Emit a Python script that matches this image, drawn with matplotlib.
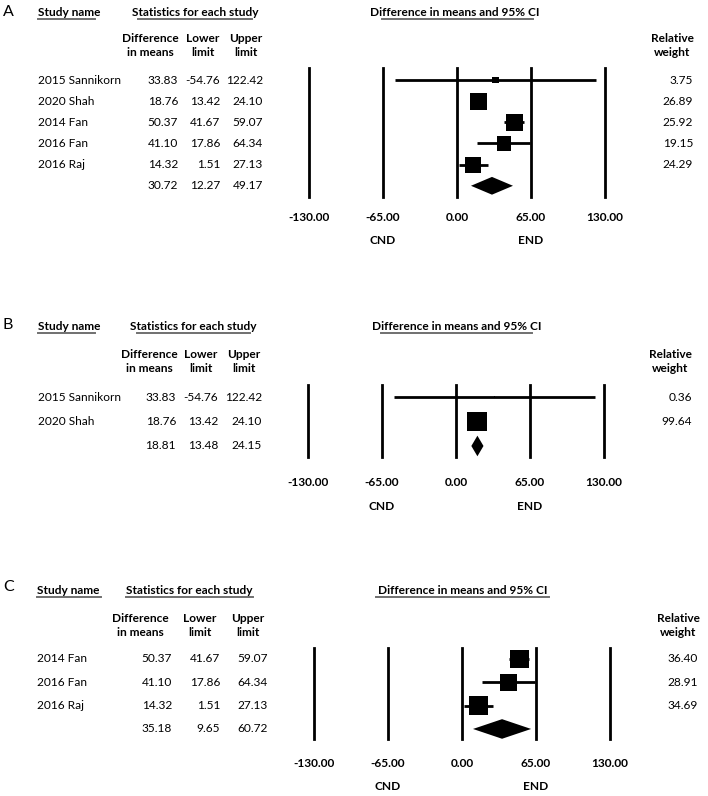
import matplotlib
matplotlib.use('Agg')
import numpy as np
import matplotlib.pyplot as plt
from matplotlib.transforms import blended_transform_factory
from matplotlib.lines import Line2D

W, H = 708, 796
plt.rcParams['font.family'] = ['Lato', 'DejaVu Sans']

# ---------------- data ----------------
a_studies = ['2015 Sannikorn', '2020 Shah', '2014 Fan', '2016 Fan', '2016 Raj']
a_diff = [33.83, 18.76, 50.37, 41.10, 14.32]
a_lower = [-54.76, 13.42, 41.67, 17.86, 1.51]
a_upper = [122.42, 24.10, 59.07, 64.34, 27.13]
a_weight = [3.75, 26.89, 25.92, 19.15, 24.29]
a_summary = [30.72, 12.27, 49.17]

b_studies = ['2015 Sannikorn', '2020 Shah']
b_diff = [33.83, 18.76]
b_lower = [-54.76, 13.42]
b_upper = [122.42, 24.10]
b_weight = [0.36, 99.64]
b_summary = [18.81, 13.48, 24.15]

c_studies = ['2014 Fan', '2016 Fan', '2016 Raj']
c_diff = [50.37, 41.10, 14.32]
c_lower = [41.67, 17.86, 1.51]
c_upper = [59.07, 64.34, 27.13]
c_weight = [36.40, 28.91, 34.69]
c_summary = [35.18, 9.65, 60.72]

tick_values = [-130, -65, 0, 65, 130]
tick_labels = ['-130.00', '-65.00', '0.00', '65.00', '130.00']
left_label, right_label = 'CND', 'END'

# ---------------- layout (pixels) ----------------
panels = [
    dict(letter='A', studies=a_studies, diff=a_diff, lower=a_lower, upper=a_upper,
         weight=a_weight, summary=a_summary,
         letter_y=12, head_y=13, uline_y=19, sub1_y=38, sub2_y=53,
         ax=(309, 605, 68, 197), pad_top=0.57, pad_bot=0.53,
         tick_y=217, cnd_y=241,
         name_x=38, diff_r=178, low_r=220, up_r=263, rw_r=693,
         diff_c=150, low_c=203, up_c=246, rw_c=672,
         study_ul=(38, 95), stats_ul=(138, 252), ci_ul=(382, 533),
         stats_c=195, ci_c=455),
    dict(letter='B', studies=b_studies, diff=b_diff, lower=b_lower, upper=b_upper,
         weight=b_weight, summary=b_summary,
         letter_y=325, head_y=327, uline_y=333, sub1_y=354, sub2_y=369,
         ax=(308, 604, 385, 457), pad_top=0.49, pad_bot=0.45,
         tick_y=482, cnd_y=507,
         name_x=38, diff_r=176, low_r=218, up_r=262, rw_r=692,
         diff_c=149, low_c=201, up_c=244, rw_c=670,
         study_ul=(38, 95), stats_ul=(137, 250), ci_ul=(381, 532),
         stats_c=193, ci_c=457),
    dict(letter='C', studies=c_studies, diff=c_diff, lower=c_lower, upper=c_upper,
         weight=c_weight, summary=c_summary,
         letter_y=587, head_y=591, uline_y=597, sub1_y=618, sub2_y=633,
         ax=(314, 610, 648, 739), pad_top=0.47, pad_bot=0.43,
         tick_y=763, cnd_y=787,
         name_x=37, diff_r=172, low_r=220, up_r=268, rw_r=698,
         diff_c=140, low_c=200, up_c=248, rw_c=678,
         study_ul=(37, 101), stats_ul=(126, 253), ci_ul=(376, 549),
         stats_c=189, ci_c=463),
]

FS = 8.6
HFS = 8.6
ULC = '#707070'

fig = plt.figure(figsize=(W / 100, H / 100), dpi=100)


def fx(px):
    return px / W


def fy(py):
    return 1 - py / H


for p in panels:
    x0, x1, y0, y1 = p['ax']
    ax = fig.add_axes([fx(x0), fy(y1), (x1 - x0) / W, (y1 - y0) / H])
    n = len(p['studies'])
    nrows = n + 1
    ax.set_xlim(tick_values[0], tick_values[-1])
    ax.set_ylim(nrows - 1 + p['pad_bot'], -p['pad_top'])
    for s in ax.spines.values():
        s.set_visible(False)
    ax.set_yticks([])
    ax.set_xticks(tick_values)
    ax.set_xticklabels(tick_labels, fontweight='bold', fontsize=FS)
    pad_px = p['tick_y'] - y1 - 5
    ax.tick_params(axis='x', length=0, pad=pad_px * 0.72)
    ax.patch.set_alpha(0)

    for tv in tick_values:
        ax.axvline(tv, color='black', lw=2.0, clip_on=False)

    row_px = (y1 - y0) / (nrows - 1 + p['pad_bot'] + p['pad_top'])
    wmax = max(p['weight'])
    rows = np.arange(n)
    ax.hlines(rows, p['lower'], p['upper'], color='black', lw=2.0)
    sides_pt = [0.81 * row_px * 0.72 * np.sqrt(w / wmax) for w in p['weight']]
    ax.scatter(p['diff'], rows, marker='s', s=[s ** 2 for s in sides_pt],
               color='black', linewidths=0, zorder=3)
    est, lo, hi = p['summary']
    h = 0.42
    ax.fill([lo, est, hi, est], [n, n - h, n, n + h], color='black', lw=0, zorder=3)

    # CND / END
    tr_x = blended_transform_factory(ax.transData, fig.transFigure)
    ax.text(-65, fy(p['cnd_y']), left_label, transform=tr_x, ha='center', va='center',
            fontweight='bold', fontsize=FS)
    ax.text(65, fy(p['cnd_y']), right_label, transform=tr_x, ha='center', va='center',
            fontweight='bold', fontsize=FS)

    # row text
    tr = blended_transform_factory(fig.transFigure, ax.transData)
    for i in range(n):
        ax.text(fx(p['name_x']), i, p['studies'][i], transform=tr, ha='left', va='center', fontsize=FS)
        ax.text(fx(p['diff_r']), i, f"{p['diff'][i]:.2f}", transform=tr, ha='right', va='center', fontsize=FS)
        ax.text(fx(p['low_r']), i, f"{p['lower'][i]:.2f}", transform=tr, ha='right', va='center', fontsize=FS)
        ax.text(fx(p['up_r']), i, f"{p['upper'][i]:.2f}", transform=tr, ha='right', va='center', fontsize=FS)
        ax.text(fx(p['rw_r']), i, f"{p['weight'][i]:.2f}", transform=tr, ha='right', va='center', fontsize=FS)
    ax.text(fx(p['diff_r']), n, f"{est:.2f}", transform=tr, ha='right', va='center', fontsize=FS)
    ax.text(fx(p['low_r']), n, f"{lo:.2f}", transform=tr, ha='right', va='center', fontsize=FS)
    ax.text(fx(p['up_r']), n, f"{hi:.2f}", transform=tr, ha='right', va='center', fontsize=FS)

    # headers
    fig.text(fx(3), fy(p['letter_y']), p['letter'], ha='left', va='center', fontsize=11.5)
    fig.text(fx(p['study_ul'][0]), fy(p['head_y']), 'Study name', ha='left', va='center',
             fontweight='bold', fontsize=HFS)
    fig.text(fx(p['stats_c']), fy(p['head_y']), 'Statistics for each study', ha='center', va='center',
             fontweight='bold', fontsize=HFS)
    fig.text(fx(p['ci_c']), fy(p['head_y']), 'Difference in means and 95% CI', ha='center', va='center',
             fontweight='bold', fontsize=HFS)
    for a, b in (p['study_ul'], p['stats_ul'], p['ci_ul']):
        fig.add_artist(Line2D([fx(a), fx(b)], [fy(p['uline_y'])] * 2, color=ULC, lw=1.4,
                              transform=fig.transFigure))
    fig.text(fx(p['diff_c']), fy(p['sub1_y']), 'Difference', ha='center', va='center', fontweight='bold', fontsize=HFS)
    fig.text(fx(p['diff_c']), fy(p['sub2_y']), 'in means', ha='center', va='center', fontweight='bold', fontsize=HFS)
    fig.text(fx(p['low_c']), fy(p['sub1_y']), 'Lower', ha='center', va='center', fontweight='bold', fontsize=HFS)
    fig.text(fx(p['low_c']), fy(p['sub2_y']), 'limit', ha='center', va='center', fontweight='bold', fontsize=HFS)
    fig.text(fx(p['up_c']), fy(p['sub1_y']), 'Upper', ha='center', va='center', fontweight='bold', fontsize=HFS)
    fig.text(fx(p['up_c']), fy(p['sub2_y']), 'limit', ha='center', va='center', fontweight='bold', fontsize=HFS)
    fig.text(fx(p['rw_c']), fy(p['sub1_y']), 'Relative', ha='center', va='center', fontweight='bold', fontsize=HFS)
    fig.text(fx(p['rw_c']), fy(p['sub2_y']), 'weight', ha='center', va='center', fontweight='bold', fontsize=HFS)

fig.savefig('out.png', dpi=100, facecolor='white')
